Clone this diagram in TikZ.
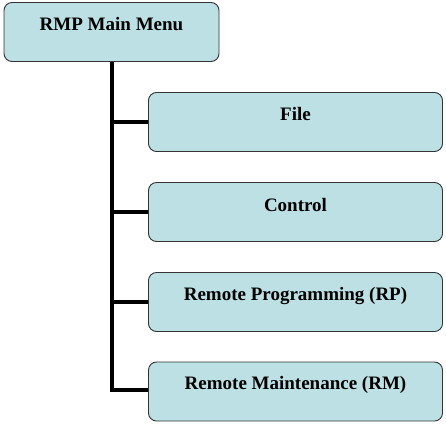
\documentclass[tikz,border=0pt]{standalone}
\usepackage{fontspec}
\setmainfont{Liberation Serif}
\begin{document}
\begin{tikzpicture}[x=1pt,y=-1pt,
  menubox/.style={draw=black!80,line width=0.9pt,fill=boxfill,rounded corners=8pt,minimum width=#1,minimum height=59pt,inner sep=0pt},
  lbl/.style={font=\bfseries\fontsize{19}{22}\selectfont,anchor=center},
  branch/.style={line width=3.8pt,black}]
\definecolor{boxfill}{HTML}{BCE0E3}
\useasboundingbox (0,0) rectangle (446,424);
\node[menubox=215pt] (main) at (111.5,32) {};
\node[lbl] (mainl) at (111.5,24) {RMP Main Menu};
\node[menubox=294pt] (file) at (295.5,122) {};
\node[lbl] (filel) at (295.5,114) {File};
\node[menubox=294pt] (ctrl) at (295.5,212) {};
\node[lbl] (ctrll) at (295.5,205) {Control};
\node[menubox=294pt] (rp) at (295.5,302) {};
\node[lbl] (rpl) at (295.5,296) {Remote Programming (RP)};
\node[menubox=294pt] (rm) at (295.5,391.5) {};
\node[lbl] (rml) at (295.5,385) {Remote Maintenance (RM)};
\coordinate (bend) at (112,390);
\draw[branch] (main.south -| bend) -- (bend) -- (bend -| rm.west);
\draw[branch] (file.west -| bend) -- (file.west);
\draw[branch] (ctrl.west -| bend) -- (ctrl.west);
\draw[branch] (rp.west -| bend) -- (rp.west);
\end{tikzpicture}
\end{document}
